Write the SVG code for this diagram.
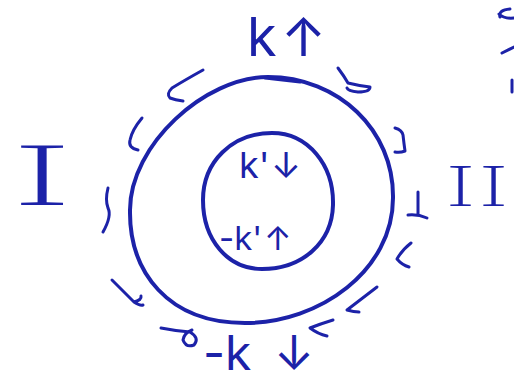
<svg xmlns="http://www.w3.org/2000/svg" width="514" height="384" viewBox="0 0 514 384">
<style>
.ink{fill:none;stroke:#1c22a8;stroke-linecap:round;stroke-linejoin:round}
.ring{stroke-width:4}
.arr{stroke-width:3}
.t{fill:#1c22a8;font-family:Inter,"DejaVu Sans",sans-serif;font-weight:400}
.r{fill:#1c22a8;font-family:"Noto Sans",sans-serif;font-weight:200}
</style>
<rect width="514" height="384" fill="#ffffff"/>
<g id="outer-ring">
<path class="ink ring" d="M268,77 C338,77 394,130 393,198 C393,270 320,323 245,323 C168,323 129,272 130,210 C130,145 205,77 268,77 Z"/>
<path class="ink arr" d="M265,78 L300,82"/>
</g>
<g id="inner-ring">
<path class="ink ring" d="M272,133 C308,133 334,165 333,205 C332,243 302,269 262,269 C228,269 203,240 203,200 C203,162 232,133 272,133 Z"/>
</g>
<g id="labels">
<text class="t" x="247" y="56" font-size="54">k<tspan x="281">↑</tspan></text>
<text class="t" x="239" y="178" font-size="36">k'<tspan x="271">↓</tspan></text>
<text class="t" x="219" y="250" font-size="33">-k'<tspan x="264">↑</tspan></text>
<text class="t" x="203" y="370" font-size="48">-k<tspan x="274">↓</tspan></text>
<text class="r" x="8" y="205" font-size="84" textLength="68" lengthAdjust="spacingAndGlyphs">I</text>
<text class="r" x="444" y="206" font-size="56" textLength="66" lengthAdjust="spacingAndGlyphs">II</text>
</g>
<g id="connectors">
<path class="ink arr" d="M203,70 Q185,80 172,88 Q166,94 170,98 Q175,100 183,101"/>
<path class="ink arr" d="M142,118 Q132,130 130,140 Q128,148 138,150"/>
<path class="ink arr" d="M108,188 Q105,200 108,208 Q112,216 103,232"/>
<path class="ink arr" d="M112,280 Q124,292 134,302 Q142,300 141,296 M134,302 Q140,306 143,305"/>
<path class="ink arr" d="M161,328 Q176,331 190,332 Q200,338 194,345 Q186,348 183,340 Q184,333 192,330"/>
<path class="ink arr" d="M333,320 Q320,324 310,328 Q318,334 327,336"/>
<path class="ink arr" d="M377,287 Q360,300 347,310 Q354,312 359,312"/>
<path class="ink arr" d="M411,243 Q402,250 397,259 Q402,265 409,267"/>
<path class="ink arr" d="M418,192 L418,214 M408,215 Q418,214 427,218"/>
<path class="ink arr" d="M395,128 Q402,130 403,135 Q404,144 405,151 Q400,153 395,152"/>
<path class="ink arr" d="M338,68 Q344,76 348,83 Q360,86 370,87 Q370,92 358,92 Q348,91 347,88"/>
<path class="ink arr" d="M500,17 Q498,10 510,9 M499,14 Q504,19 514,18 M502,53 Q508,50 514,47 M512,80 L512,92"/>
</g>
</svg>
